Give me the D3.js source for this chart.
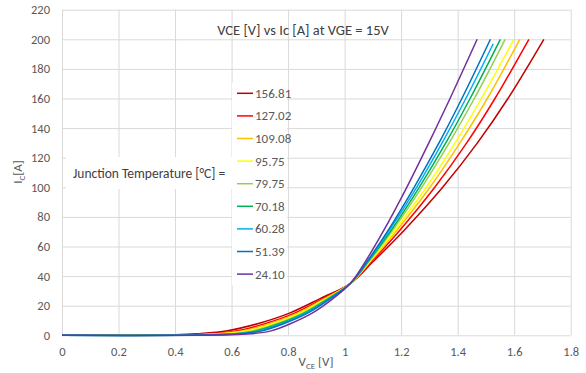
<!DOCTYPE html>
<html>
<head>
<meta charset="utf-8">
<script src="https://cdn.jsdelivr.net/npm/d3@7"></script>
<style>
  body { margin: 0; background: #fff; }
  text { font-family: Carlito, Calibri, Lato, sans-serif; }
</style>
</head>
<body>
<div id="chart"></div>
<script>
// collector current levels [A] shared by all curves
var icLevels = [0, 0.3, 1, 3, 8, 15, 25, 35, 50, 70, 100, 130, 160, 200];

// junction temperatures (legend order)
var temps = ["156.81", "127.02", "109.08", "95.75", "79.75", "70.18", "60.28", "51.39", "24.10"];

// VCE [V] at each current level
var vce15681 = [0, 0.400, 0.480, 0.585, 0.695, 0.805, 0.915, 1.02, 1.102, 1.206, 1.347, 1.470, 1.578, 1.705];
var vce12702 = [0, 0.445, 0.523, 0.620, 0.721, 0.823, 0.925, 1.02, 1.096, 1.191, 1.319, 1.432, 1.532, 1.652];
var vce10908 = [0, 0.472, 0.548, 0.641, 0.736, 0.834, 0.931, 1.02, 1.092, 1.181, 1.302, 1.408, 1.505, 1.620];
var vce9575  = [0, 0.492, 0.567, 0.656, 0.748, 0.842, 0.936, 1.02, 1.089, 1.174, 1.289, 1.391, 1.484, 1.599];
var vce7975  = [0, 0.516, 0.590, 0.675, 0.762, 0.851, 0.941, 1.02, 1.086, 1.166, 1.273, 1.370, 1.459, 1.568];
var vce7018  = [0, 0.531, 0.604, 0.686, 0.770, 0.857, 0.944, 1.02, 1.084, 1.161, 1.264, 1.358, 1.444, 1.551];
var vce6028  = [0, 0.545, 0.618, 0.698, 0.779, 0.863, 0.948, 1.02, 1.082, 1.155, 1.255, 1.345, 1.429, 1.526];
var vce5139  = [0, 0.559, 0.631, 0.708, 0.786, 0.869, 0.951, 1.02, 1.080, 1.151, 1.246, 1.334, 1.415, 1.516];
var vce2410  = [0, 0.600, 0.670, 0.740, 0.810, 0.885, 0.960, 1.02, 1.074, 1.136, 1.220, 1.298, 1.373, 1.469];

// last current point of each curve
var icEnd = [200, 200, 200, 200, 200, 200, 197, 200, 200];

var xTicks = [0, 0.2, 0.4, 0.6, 0.8, 1, 1.2, 1.4, 1.6, 1.8];
var xTickLabels = ["0", "0.2", "0.4", "0.6", "0.8", "1", "1.2", "1.4", "1.6", "1.8"];
var yTicks = [0, 20, 40, 60, 80, 100, 120, 140, 160, 180, 200, 220];
var yTickLabels = ["0", "20", "40", "60", "80", "100", "120", "140", "160", "180", "200", "220"];

var colors = ["#C00000", "#FF0000", "#FFC000", "#FFFF00", "#92D050", "#00B050", "#00B0F0", "#0070C0", "#7030A0"];

var vceSeries = [vce15681, vce12702, vce10908, vce9575, vce7975, vce7018, vce6028, vce5139, vce2410];

var svgWidth = 586;
var svgHeight = 373;

var margin = {
    top : 9.7,
    right : 15.3,
    bottom : 37.7,
    left : 62
};

var width = svgWidth - margin.left - margin.right;
var height = svgHeight - margin.top - margin.bottom;

var svg = d3.select("#chart")
    .append("svg")
    .attr("width", svgWidth)
    .attr("height", svgHeight);

svg.append("rect")
    .attr("width", svgWidth)
    .attr("height", svgHeight)
    .attr("fill", "#fff");

var chartGroup = svg.append("g")
    .attr("transform", `translate(${margin.left}, ${margin.top})`);

var x = d3.scaleLinear().domain([0, 1.8]).range([0, width]);
var y = d3.scaleLinear().domain([0, 220]).range([height, 0]);

// gridlines
chartGroup.append("g")
    .attr("transform", `translate(0,${height})`)
    .call(d3.axisBottom(x).tickValues(xTicks).tickSize(-height).tickFormat(""))
    .call(g => g.select(".domain").remove())
    .call(g => g.selectAll("line").attr("stroke", "#d9d9d9"));

chartGroup.append("g")
    .call(d3.axisLeft(y).tickValues(yTicks).tickSize(-width).tickFormat(""))
    .call(g => g.select(".domain").remove())
    .call(g => g.selectAll("line").attr("stroke", "#d9d9d9"));

// tick labels
chartGroup.append("g")
    .attr("transform", `translate(0,${height})`)
    .call(d3.axisBottom(x).tickValues(xTicks).tickSize(0).tickPadding(12)
        .tickFormat((d, i) => xTickLabels[i]))
    .call(g => g.select(".domain").remove())
    .call(g => g.selectAll("text").attr("fill", "#595959").style("font-size", "12.5px")
        .style("font-family", "Carlito, Calibri, Lato, sans-serif"));

chartGroup.append("g")
    .call(d3.axisLeft(y).tickValues(yTicks).tickSize(0).tickPadding(12)
        .tickFormat((d, i) => yTickLabels[i]))
    .call(g => g.select(".domain").remove())
    .call(g => g.selectAll("text").attr("fill", "#595959").style("font-size", "12.5px")
        .style("font-family", "Carlito, Calibri, Lato, sans-serif"));

// white boxes behind the text blocks
svg.append("rect")
    .attr("x", 66).attr("y", 157).attr("width", 166).attr("height", 32)
    .attr("fill", "#fff");
svg.append("rect")
    .attr("x", 232).attr("y", 83).attr("width", 55).attr("height", 202)
    .attr("fill", "#fff");

// curves
var line = d3.line()
    .x(d => x(d.v))
    .y(d => y(d.i))
    .curve(d3.curveCatmullRom.alpha(0.5));

vceSeries.forEach(function(vals, k){
    var pts = vals.map(function(v, j){
        var ic = (j === icLevels.length - 1) ? icEnd[k] : icLevels[j];
        return {v: v, i: ic};
    });
    chartGroup.append("path")
        .datum(pts)
        .attr("fill", "none")
        .attr("stroke", colors[k])
        .attr("stroke-width", 1.5)
        .attr("d", line);
});

// title
svg.append("text")
    .attr("x", 303)
    .attr("y", 35)
    .attr("text-anchor", "middle")
    .attr("fill", "#404040")
    .style("font-size", "14.5px")
    .text("VCE [V] vs Ic [A] at VGE = 15V");

svg.append("text")
    .attr("x", 73)
    .attr("y", 177.5)
    .attr("fill", "#404040")
    .style("font-size", "13.5px")
    .text("Junction Temperature [°C] =");

// legend
var legend = svg.append("g");
temps.forEach(function(t, k){
    var ly = 93.3 + k * 22.6;
    legend.append("line")
        .attr("x1", 237).attr("x2", 253)
        .attr("y1", ly).attr("y2", ly)
        .attr("stroke", colors[k])
        .attr("stroke-width", 1.5);
    legend.append("text")
        .attr("x", 255)
        .attr("y", ly + 4.5)
        .attr("fill", "#595959")
        .style("font-size", "13px")
        .text(t);
});

// axis titles
var xTitle = svg.append("text")
    .attr("x", 316)
    .attr("y", 366)
    .attr("text-anchor", "middle")
    .attr("fill", "#595959")
    .style("font-size", "13px");
xTitle.append("tspan").text("V");
xTitle.append("tspan").attr("dy", 3).style("font-size", "9px").text("CE");
xTitle.append("tspan").attr("dy", -3).text(" [V]");

var yTitle = svg.append("text")
    .attr("transform", "translate(22,172) rotate(-90)")
    .attr("text-anchor", "middle")
    .attr("fill", "#595959")
    .style("font-size", "13px");
yTitle.append("tspan").text("I");
yTitle.append("tspan").attr("dy", 3).style("font-size", "9px").text("C");
yTitle.append("tspan").attr("dy", -3).text("[A]");
</script>
</body>
</html>
